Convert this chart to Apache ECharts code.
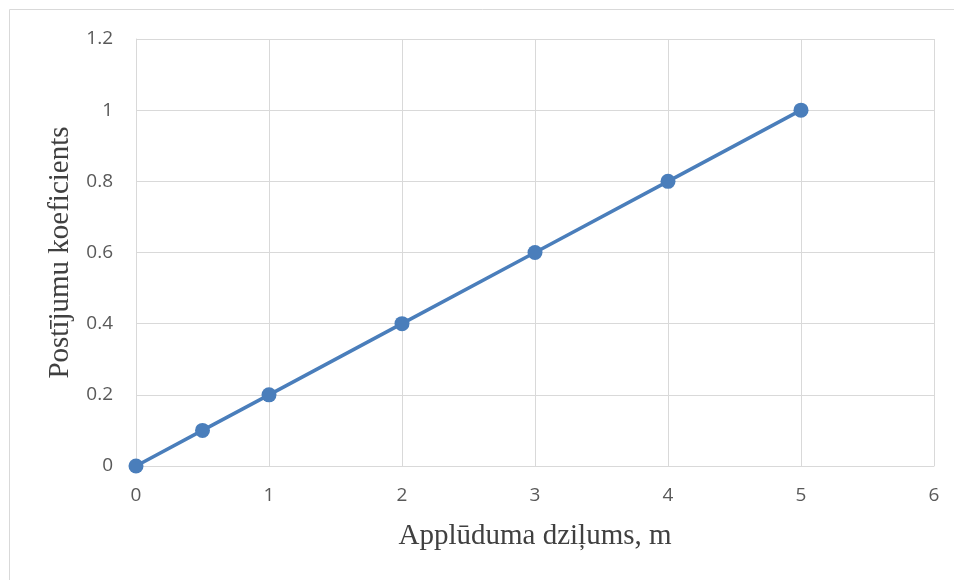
<!DOCTYPE html>
<html><head><meta charset="utf-8">
<script src="https://cdn.jsdelivr.net/npm/echarts@6/dist/echarts.min.js"></script>
<style>html,body{margin:0;padding:0;background:#fff}#c{width:954px;height:580px}</style>
</head><body><div id="c"></div>
<script>
const xValues = [0, 0.5, 1, 2, 3, 4, 5];
const yValues = [0, 0.1, 0.2, 0.4, 0.6, 0.8, 1];
const xTitle = 'Applūduma dziļums, m';
const yTitle = 'Postījumu koeficients';

const chart = echarts.init(document.getElementById('c'), null, {renderer: 'canvas'});
const labelStyle = {color: '#595959', fontSize: 19, fontFamily: 'Open Sans, Liberation Sans, sans-serif'};
chart.setOption({
  animation: false,
  graphic: [{type: 'rect', shape: {x: 9.5, y: 9.5, width: 1000, height: 1000}, style: {fill: 'none', stroke: '#d9d9d9', lineWidth: 1}}],
  grid: {left: 136, right: 20, top: 39, bottom: 114},
  xAxis: {
    type: 'value', min: 0, max: 6, interval: 1,
    name: xTitle, nameLocation: 'middle', nameGap: 56,
    nameTextStyle: {color: '#404040', fontSize: 29, fontFamily: 'Liberation Serif, serif'},
    axisLine: {show: true, lineStyle: {color: '#d9d9d9', width: 1}},
    axisTick: {show: false},
    axisLabel: Object.assign({margin: 20}, labelStyle),
    splitLine: {show: true, lineStyle: {color: '#d9d9d9', width: 1}}
  },
  yAxis: {
    type: 'value', min: 0, max: 1.2, interval: 0.2,
    name: yTitle, nameLocation: 'middle', nameGap: 60,
    nameTextStyle: {color: '#404040', fontSize: 29, fontFamily: 'Liberation Serif, serif'},
    axisLine: {show: true, lineStyle: {color: '#d9d9d9', width: 1}},
    axisTick: {show: false},
    axisLabel: Object.assign({margin: 23, formatter: v => String(Math.round(v * 10) / 10)}, labelStyle),
    splitLine: {show: true, lineStyle: {color: '#d9d9d9', width: 1}}
  },
  series: [{
    type: 'line',
    data: xValues.map((x, i) => [x, yValues[i]]),
    symbol: 'circle', symbolSize: 15,
    lineStyle: {color: '#4a7ebb', width: 3.5},
    itemStyle: {color: '#4a7ebb'}
  }]
});
</script></body></html>
